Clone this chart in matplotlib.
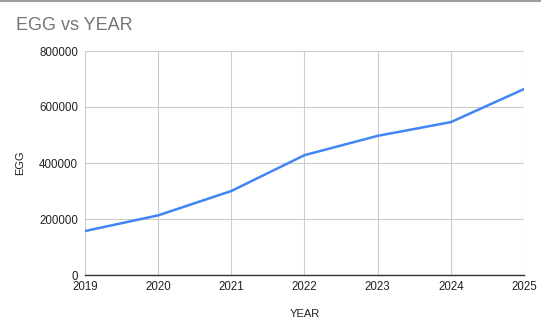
import matplotlib
matplotlib.use("Agg")
import matplotlib.pyplot as plt

years = [2019, 2020, 2021, 2022, 2023, 2024, 2025]
egg = [157000, 213000, 300000, 428000, 497000, 546000, 664000]
yticks = [0, 200000, 400000, 600000, 800000]

plt.rcParams['font.family'] = ['Liberation Sans', 'DejaVu Sans']

fig = plt.figure(figsize=(5.41, 3.32), dpi=100)
ax = fig.add_axes([85/541, 57/332, 439/541, 224/332])

ax.plot(years, egg, color='#4285F4', linewidth=1.8, solid_capstyle='round', zorder=3)
ax.set_xlim(2019, 2025)
ax.set_ylim(0, 800000)
ax.set_xticks(years)
ax.set_xticklabels([str(y) for y in years])
ax.set_yticks(yticks)
ax.set_yticklabels([str(v) for v in yticks])
ax.grid(True, color='#cccccc', linewidth=0.8, zorder=0)
for s in ['top', 'right', 'left']:
    ax.spines[s].set_visible(False)
ax.spines['bottom'].set_color('#333333')
ax.spines['bottom'].set_linewidth(1.0)
ax.tick_params(axis='both', length=0, labelsize=8.3, colors='#222222')
ax.tick_params(axis='x', pad=4.5)
ax.tick_params(axis='y', pad=5)
ax.get_yticklabels()[0].set_va('center_baseline')

ax.set_xlabel('YEAR', fontsize=8, color='#222222', labelpad=11)
ax.set_ylabel('EGG', fontsize=8, color='#222222', labelpad=10)

fig.text(16/541, 1 - 25/332, 'EGG vs YEAR', fontsize=13, color='#757575', va='center', ha='left')
fig.add_artist(plt.Line2D([0, 1], [1 - 0.5/332, 1 - 0.5/332], color='#9e9e9e', linewidth=1.5, transform=fig.transFigure))

fig.savefig('out.png', dpi=100)
